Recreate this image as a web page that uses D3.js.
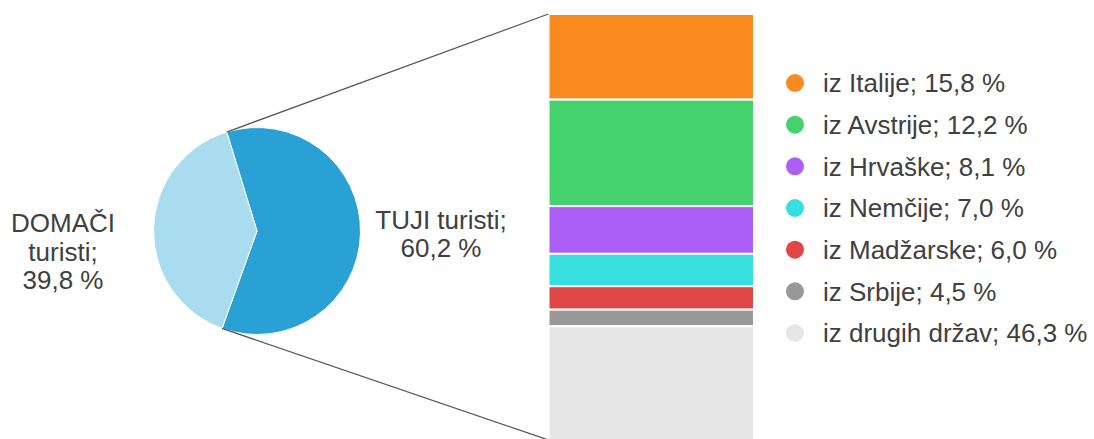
<!DOCTYPE html>
<html>
<head>
<meta charset="utf-8">
<script src="https://cdn.jsdelivr.net/npm/d3@7"></script>
<style>
  html, body { margin: 0; padding: 0; background: #fff; }
  svg { display: block; }
  text { font-family: "Liberation Sans", Arial, sans-serif; fill: #404040; }
</style>
</head>
<body>
<svg id="chart" width="1094" height="439"></svg>
<script>
// ---- data ----
const pieCategories = ["TUJI turisti", "DOMAČI turisti"];
const pieValues = [60.2, 39.8];
const pieLabelLines = [["TUJI turisti;", "60,2 %"], ["DOMAČI", "turisti;", "39,8 %"]];

const countries = ["iz Italije", "iz Avstrije", "iz Hrvaške", "iz Nemčije", "iz Madžarske", "iz Srbije", "iz drugih držav"];
const countryValues = [15.8, 12.2, 8.1, 7.0, 6.0, 4.5, 46.3];
const countryLabels = ["15,8 %", "12,2 %", "8,1 %", "7,0 %", "6,0 %", "4,5 %", "46,3 %"];
// proportions of the stacked bar as drawn in the picture (share of bar height)
const barShares = [20.1, 25.0, 11.2, 7.6, 5.5, 3.9, 26.7];

const pieColors = ["#2aa1d4", "#a9dcee"];
const barColors = ["#f98a1f", "#45d36f", "#ac5ef6", "#38dfe0", "#e04646", "#999999", "#e6e6e6"];

// ---- layout ----
const svg = d3.select("#chart");
const cx = 257, cy = 231, R = 103.5;
const startA = -17 * Math.PI / 180;

const pie = d3.pie().sort(null).value(d => d)
  .startAngle(startA).endAngle(startA + 2 * Math.PI);
const arcs = pie(pieValues);
const arc = d3.arc().innerRadius(0).outerRadius(R);

const g = svg.append("g").attr("transform", `translate(${cx},${cy})`);
g.selectAll("path").data(arcs).join("path")
  .attr("d", arc)
  .attr("fill", (d, i) => pieColors[i])
  .attr("stroke", "#fff").attr("stroke-width", 1);

// bar
const barX = 548.5, barW = 205.5, barTop = 14, barBottom = 440;
const cum = [0];
barShares.forEach(v => cum.push(cum[cum.length - 1] + v));
const y = d3.scaleLinear().domain([0, d3.sum(barShares)]).range([barTop, barBottom]);

svg.append("g").selectAll("rect").data(barShares).join("rect")
  .attr("x", barX).attr("width", barW)
  .attr("y", (d, i) => y(cum[i]))
  .attr("height", (d, i) => y(cum[i + 1]) - y(cum[i]))
  .attr("fill", (d, i) => barColors[i])
  .attr("stroke", "#fff").attr("stroke-width", 2);

// connector lines from TUJI slice edges to bar corners
const foreign = arcs[0];
function pt(a) { return [cx + R * Math.sin(a), cy - R * Math.cos(a)]; }
const pTop = pt(foreign.startAngle), pBot = pt(foreign.endAngle);
const line = d3.line();
svg.append("path").attr("d", line([pTop, [barX, y(0)]]))
  .attr("stroke", "#555").attr("stroke-width", 1.3).attr("fill", "none");
svg.append("path").attr("d", line([pBot, [barX, y(d3.sum(barShares))]]))
  .attr("stroke", "#555").attr("stroke-width", 1.3).attr("fill", "none");

// pie labels
const fs = 26;
const tuji = svg.append("text").attr("text-anchor", "middle").attr("font-size", fs);
pieLabelLines[0].forEach((t, i) => tuji.append("tspan").attr("x", 441).attr("y", 229 + i * 28).text(t));
const dom = svg.append("text").attr("text-anchor", "middle").attr("font-size", fs);
pieLabelLines[1].forEach((t, i) => dom.append("tspan").attr("x", 63).attr("y", 232 + i * 28.5).text(t));

// legend
const legY = d3.scalePoint().domain(countries).range([83, 333]);
const leg = svg.append("g");
leg.selectAll("circle").data(countries).join("circle")
  .attr("cx", 795).attr("cy", d => legY(d)).attr("r", 9)
  .attr("fill", (d, i) => barColors[i]);
leg.selectAll("text").data(countries).join("text")
  .attr("x", 823).attr("y", d => legY(d)).attr("dy", "0.36em")
  .attr("font-size", fs)
  .text((d, i) => `${d}; ${countryLabels[i]}`);
</script>
</body>
</html>
